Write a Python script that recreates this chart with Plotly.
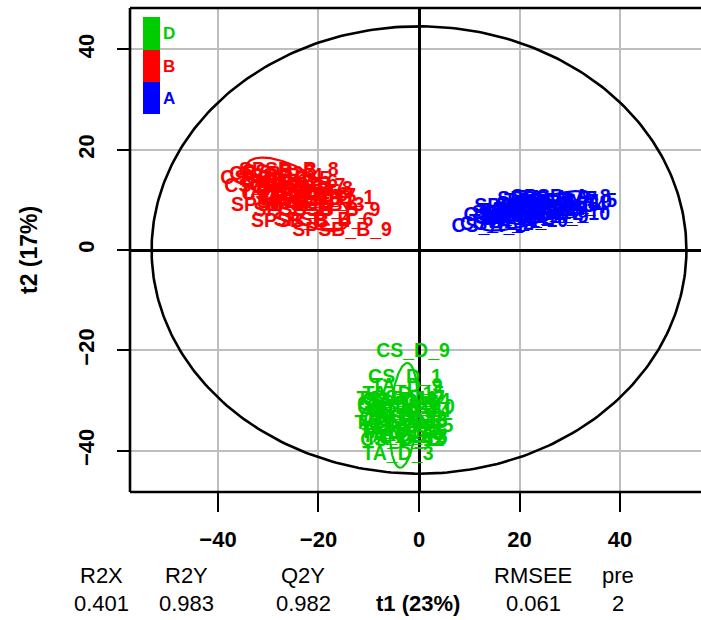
import numpy as np
import plotly.graph_objects as go

# ---- PLS-DA scores (t1, t2) per class ----
names_A = ["CS_A_1", "CS_A_2", "TA_A_1", "CS_A_3", "TA_A_2", "SPSB_A_1", "CS_A_4", "TA_A_3",
           "SPSB_A_2", "CS_A_5", "TA_A_4", "SPSB_A_3", "CS_A_6", "TA_A_5", "SPSB_A_4", "CS_A_7",
           "TA_A_6", "SPSB_A_5", "CS_A_10", "CS_A_8", "TA_A_7", "SPSB_A_6", "CS_A_9", "TA_A_8",
           "SPSB_A_7", "TA_A_9", "SPSB_A_8", "TA_A_10", "SPSB_A_9", "SPSB_A_10"]
t1_A = [13.8, 15.5, 17.0, 18.2, 19.5, 20.4, 21.3, 22.0, 22.8, 23.5, 24.3, 25.0, 25.8, 26.5, 27.3,
        28.0, 28.8, 29.5, 30.0, 16.2, 18.8, 20.9, 22.6, 24.0, 25.5, 26.9, 28.2, 21.5, 23.8, 27.0]
t2_A = [4.5, 5.0, 5.3, 6.4, 6.0, 7.2, 6.6, 7.8, 7.0, 8.3, 7.5, 8.6, 8.0, 9.0, 8.4,
        9.4, 8.8, 9.6, 9.4, 6.8, 7.6, 8.5, 9.0, 9.6, 9.9, 10.2, 10.4, 5.6, 6.3, 7.0]

names_B = ["CS_B_1", "CS_B_2", "TA_B_1", "CS_B_3", "TA_B_2", "CS_B_4", "TA_B_3", "CS_B_5",
           "TA_B_4", "CS_B_6", "TA_B_5", "CS_B_7", "TA_B_6", "CS_B_8", "TA_B_7", "CS_B_9",
           "TA_B_8", "CS_B_10", "TA_B_9", "TA_B_10", "SPSB_B_2", "SPSB_B_3", "SPSB_B_1", "SPSB_B_5",
           "SPSB_B_7", "SSB_B_9", "SPSB_B_4", "SPSB_B_6", "SPSB_B_9", "SPSB_B_8"]
t1_B = [-32.2, -30.4, -29.0, -28.0, -27.2, -26.5, -25.8, -25.0, -24.2, -23.5, -22.8, -22.0,
        -21.2, -20.5, -19.6, -31.4, -28.6, -26.9, -25.2, -23.8, -22.3, -20.8, -18.8, -27.5,
        -23.0, -16.3, -23.5, -19.0, -15.3, -25.9]
t2_B = [14.2, 15.0, 13.6, 15.3, 13.0, 14.6, 12.4, 14.0, 11.9, 13.3, 11.3, 12.6,
        10.8, 12.0, 10.6, 12.6, 11.6, 11.0, 10.4, 9.9, 9.3, 8.8, 10.2, 8.7,
        7.8, 7.8, 5.6, 5.8, 3.8, 15.8]

names_D = ["CS_D_9", "CS_D_1", "TA_D_9", "TA_D_3", "CS_D_2", "CS_D_3", "CS_D_4", "CS_D_5",
           "CS_D_6", "CS_D_7", "CS_D_8", "CS_D_10", "TA_D_1", "TA_D_2", "TA_D_4", "TA_D_5",
           "TA_D_6", "TA_D_7", "TA_D_8", "TA_D_10", "CS_D_11", "CS_D_12", "CS_D_13", "CS_D_14",
           "CS_D_15", "TA_D_11", "TA_D_12", "TA_D_13", "TA_D_14", "TA_D_15"]
t1_D = [-1.2, -2.8, -2.4, -4.2, -5.0, -4.5, -3.9, -3.4, -2.8, -2.2, -1.7, -1.3, -4.8, -4.3, -3.7,
        -3.1, -2.5, -1.9, -1.4, -4.7, -4.0, -3.3, -2.7, -2.1, -1.6, -4.4, -3.6, -2.6, -1.9, -3.1]
t2_D = [-20.3, -25.5, -27.3, -40.9, -31.0, -33.5, -30.2, -35.8, -32.4, -29.8, -34.6, -31.5,
        -36.2, -37.4, -33.0, -30.8, -36.9, -33.9, -37.6, -34.8, -31.8, -38.2, -34.2, -32.3,
        -35.4, -29.9, -36.5, -38.0, -30.4, -29.0]

# Hotelling T2 (95%) limits of the score plot
hotelling_t1 = 53.2
hotelling_t2 = 44.6

# model summary
metric_names = ["R2X", "R2Y", "Q2Y", "RMSEE", "pre"]
metric_values = ["0.401", "0.983", "0.982", "0.061", "2"]
x_title = "t1 (23%)"
y_title = "t2 (17%)"
tick_vals = [-40, -20, 0, 20, 40]

classes = [("A", names_A, t1_A, t2_A, "#0000FF"),
           ("B", names_B, t1_B, t2_B, "#FF0000"),
           ("D", names_D, t1_D, t2_D, "#00CD00")]

W, H = 701, 620
L, T, R, B = 130, 8, 0, 128
pw, ph = W - L - R, H - T - B

FONT = "Liberation Sans, Arial, Helvetica, sans-serif"


def px2paper(px, py):
    return (px - L) / pw, (T + ph - py) / ph


fig = go.Figure()

theta = np.linspace(0, 2 * np.pi, 361)

# overall Hotelling ellipse
fig.add_trace(go.Scatter(x=hotelling_t1 * np.cos(theta), y=hotelling_t2 * np.sin(theta),
                         mode="lines", line=dict(color="black", width=2.6),
                         hoverinfo="skip", showlegend=False))

# class ellipses (95% from class covariance) and sample labels
k95 = np.sqrt(5.991)
for cls, names, t1, t2, col in classes:
    xy = np.vstack([t1, t2])
    mu = xy.mean(axis=1)
    cov = np.cov(xy)
    vals, vecs = np.linalg.eigh(cov)
    circ = np.vstack([np.cos(theta), np.sin(theta)])
    ell = vecs @ (np.sqrt(vals)[:, None] * circ) * k95 + mu[:, None]
    fig.add_trace(go.Scatter(x=ell[0], y=ell[1], mode="lines",
                             line=dict(color=col, width=2.2),
                             hoverinfo="skip", showlegend=False))

for cls, names, t1, t2, col in classes:
    fig.add_trace(go.Scatter(x=t1, y=t2, text=names, mode="text",
                             textposition="middle center",
                             textfont=dict(family=FONT, size=19.5, color=col, weight="bold"),
                             name=cls, showlegend=False, cliponaxis=False))

axis_common = dict(
    tickvals=tick_vals, ticks="outside", tickcolor="black", tickwidth=1.6,
    showgrid=True, gridcolor="#BEBEBE", gridwidth=2.2,
    zeroline=True, zerolinecolor="black", zerolinewidth=2.6,
    showline=False, tickfont=dict(family=FONT, size=22, color="black", weight="bold"),
)

fig.update_xaxes(range=[-57.5, 56.1], ticklen=19, ticklabelstandoff=9, **axis_common)
fig.update_yaxes(range=[-48.25, 48.25], ticklen=12, tickangle=-90, ticklabelstandoff=14,
                 **axis_common)

# box on left, top and bottom
shapes = []
for x0, y0, x1, y1 in [(0, 0, 0, 1), (0, 1, 1, 1), (0, 0, 1, 0)]:
    shapes.append(dict(type="line", xref="paper", yref="paper", x0=x0, y0=y0, x1=x1, y1=y1,
                       line=dict(color="black", width=2.6)))

# class colour key (top-left)
key_rows = [("D", "#00CD00", 17, 50), ("B", "#FF0000", 50, 82), ("A", "#0000FF", 82, 114)]
annotations = []
for lab, col, ytop, ybot in key_rows:
    x0, y0 = px2paper(143, ybot)
    x1, y1 = px2paper(160, ytop)
    shapes.append(dict(type="rect", xref="paper", yref="paper", x0=x0, y0=y0, x1=x1, y1=y1,
                       fillcolor=col, line=dict(width=0)))
    ax, ay = px2paper(161, (ytop + ybot) / 2)
    annotations.append(dict(xref="paper", yref="paper", x=ax, y=ay, text=lab, showarrow=False,
                            xanchor="left", yanchor="middle",
                            font=dict(family=FONT, size=17, color=col, weight="bold")))

# axis titles
ax_, ay_ = px2paper(418, 603)
annotations.append(dict(xref="paper", yref="paper", x=ax_, y=ay_, text=x_title, showarrow=False,
                        xanchor="center", yanchor="middle",
                        font=dict(family=FONT, size=22, color="black", weight="bold")))
ax_, ay_ = px2paper(29, 250)
annotations.append(dict(xref="paper", yref="paper", x=ax_, y=ay_, text=y_title, showarrow=False,
                        textangle=-90, xanchor="center", yanchor="middle",
                        font=dict(family=FONT, size=23, color="black", weight="bold")))

# model summary rows
metric_x = [101, 186, 303, 533, 618]
for name, val, mx in zip(metric_names, metric_values, metric_x):
    for txt, my in [(name, 575), (val, 603)]:
        px_, py_ = px2paper(mx, my)
        annotations.append(dict(xref="paper", yref="paper", x=px_, y=py_, text=txt,
                                showarrow=False, xanchor="center", yanchor="middle",
                                font=dict(family=FONT, size=22, color="black")))

fig.update_layout(width=W, height=H, margin=dict(l=L, r=R, t=T, b=B, autoexpand=False),
                  plot_bgcolor="white", paper_bgcolor="white",
                  shapes=shapes, annotations=annotations, showlegend=False)

fig.write_html("out.html")
